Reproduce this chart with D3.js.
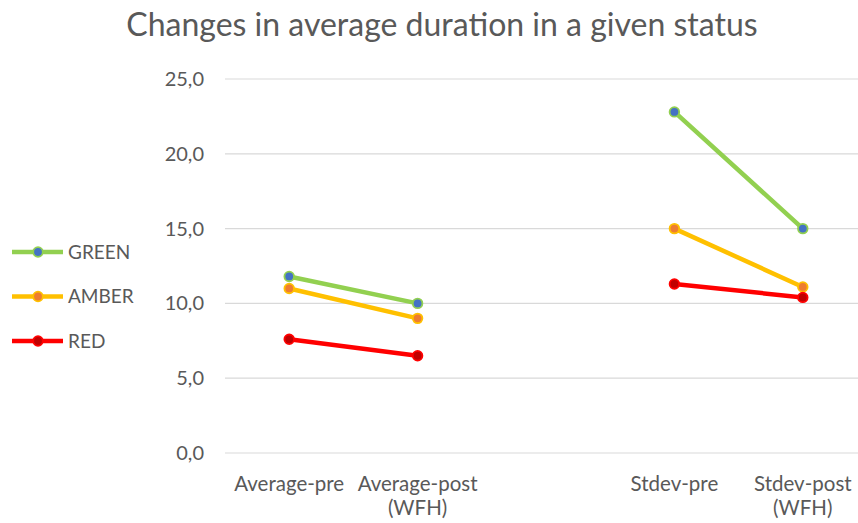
<!DOCTYPE html>
<html><head><meta charset="utf-8">
<script src="https://cdn.jsdelivr.net/npm/d3@7"></script>
<style>body{margin:0;background:#fff;} svg{display:block;font-family:Lato,"Open Sans",sans-serif;}</style>
</head><body>
<svg id="c" width="858" height="523"></svg>
<script>
const categories = ["Average-pre", "Average-post (WFH)", "", "Stdev-pre", "Stdev-post (WFH)"];
const seriesNames = ["GREEN", "AMBER", "RED"];
const greenValues = [11.8, 10.0, null, 22.8, 15.0];
const amberValues = [11.0, 9.0, null, 15.0, 11.1];
const redValues = [7.6, 6.5, null, 11.3, 10.4];
const yTicks = [0, 5, 10, 15, 20, 25];
const lineColors = ["#92D050", "#FFC000", "#FF0000"];
const markerColors = ["#4472C4", "#ED7D31", "#C00000"];

const svg = d3.select("#c");
const W = 858, H = 523;
const x = d3.scaleBand().domain(d3.range(categories.length)).range([225, 867]);
const y = d3.scaleLinear().domain([0, 25]).range([453, 79]);

svg.append("text").attr("x", 442).attr("y", 36).attr("text-anchor", "middle")
  .attr("font-size", 32).attr("fill", "#595959").text("Changes in average duration in a given status");

// gridlines
svg.append("g").selectAll("line").data(yTicks).join("line")
  .attr("x1", 225).attr("x2", W).attr("y1", d => y(d)).attr("y2", d => y(d))
  .attr("stroke", "#d9d9d9").attr("stroke-width", 1.2);

// y axis labels
const yAxis = d3.axisLeft(y).tickValues(yTicks).tickSize(0).tickPadding(0)
  .tickFormat(d => d3.format(".1f")(d).replace(".", ","));
const ya = svg.append("g").attr("transform", "translate(204,0)").call(yAxis);
ya.select(".domain").remove();
ya.selectAll("text").attr("font-size", 20).attr("fill", "#595959").attr("font-family", "Lato,'Open Sans',sans-serif");

// x labels
const xl = svg.append("g").selectAll("text").data(categories).join("text")
  .attr("text-anchor", "middle").attr("font-size", 20.5).attr("fill", "#595959")
  .attr("x", (d, i) => x(i) + x.bandwidth() / 2).attr("y", 491);
xl.each(function(d) {
  const parts = d.indexOf(" (") >= 0 ? [d.slice(0, d.indexOf(" (")), d.slice(d.indexOf(" (") + 1)] : [d];
  const t = d3.select(this);
  parts.forEach((p, k) => t.append("tspan").attr("x", t.attr("x")).attr("dy", k ? 24 : 0).text(p));
});

const allSeries = [greenValues, amberValues, redValues];
const line = d3.line().defined(d => d.v != null).x(d => x(d.i) + x.bandwidth() / 2).y(d => y(d.v));
allSeries.forEach((vals, s) => {
  const pts = vals.map((v, i) => ({v, i}));
  svg.append("path").datum(pts).attr("d", line).attr("fill", "none")
    .attr("stroke", lineColors[s]).attr("stroke-width", 4.5).attr("stroke-linejoin", "round");
  svg.append("g").selectAll("circle").data(pts.filter(d => d.v != null)).join("circle")
    .attr("cx", d => x(d.i) + x.bandwidth() / 2).attr("cy", d => y(d.v)).attr("r", 4.8)
    .attr("fill", markerColors[s]).attr("stroke", lineColors[s]).attr("stroke-width", 1.8);
});

// legend
const lg = svg.append("g").selectAll("g").data(seriesNames).join("g")
  .attr("transform", (d, i) => `translate(0,${252 + i * 44.5})`);
lg.append("line").attr("x1", 12).attr("x2", 63).attr("stroke", (d, i) => lineColors[i]).attr("stroke-width", 4.5);
lg.append("circle").attr("cx", 38).attr("r", 4.8).attr("fill", (d, i) => markerColors[i])
  .attr("stroke", (d, i) => lineColors[i]).attr("stroke-width", 1.8);
lg.append("text").attr("x", 68).attr("y", 6.5).attr("font-size", 19).attr("fill", "#595959").text(d => d);
</script>
</body></html>
